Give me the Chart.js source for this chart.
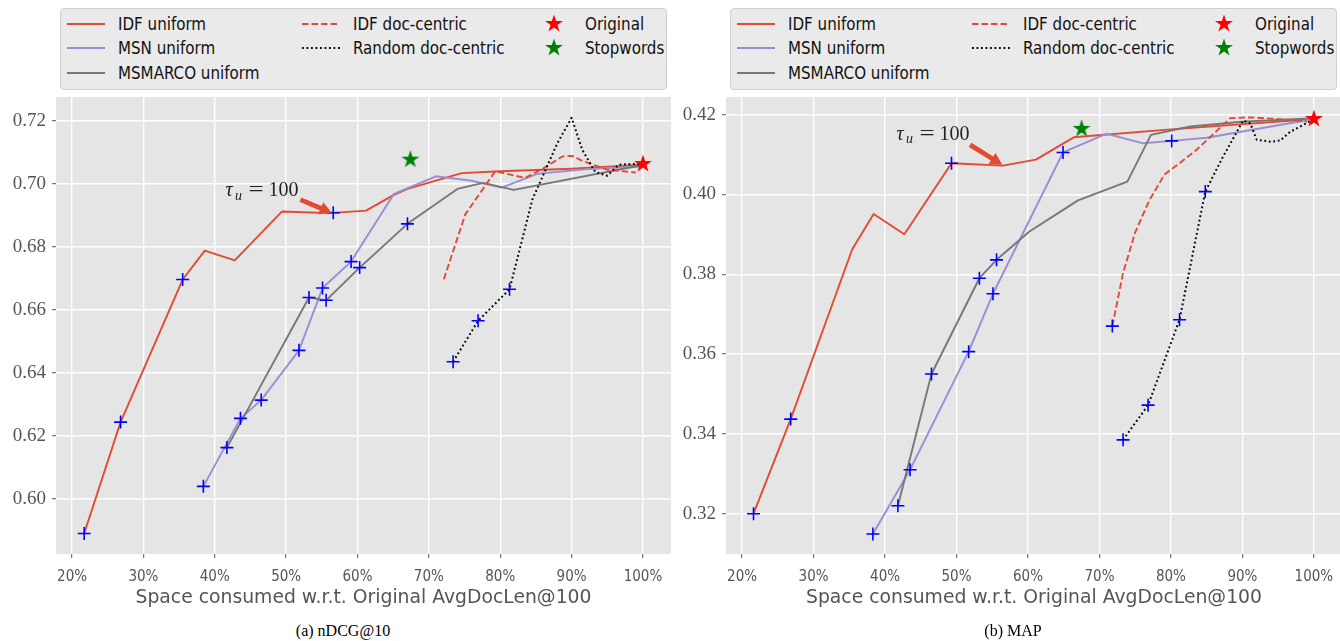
<!DOCTYPE html>
<html>
<head>
<meta charset="utf-8">
<script src="https://cdn.jsdelivr.net/npm/chart.js@4.4.1/dist/chart.umd.min.js"></script>
<style>
  body { margin: 0; width: 1340px; height: 641px; overflow: hidden; background: #fff; position: relative; }
  .panel { position: absolute; top: 0; width: 670px; height: 641px; }
  .plot { position: absolute; left: 0; top: 90px; }
  .legend { position: absolute; left: 60px; top: 8px; width: 605px; height: 80px;
            background: #eaeaea; border: 1px solid #cfcfcf; border-radius: 4px; }
  .item { position: absolute; height: 20px; display: flex; align-items: center;
          font-family: "DejaVu Sans Condensed", "DejaVu Sans", sans-serif; font-size: 16.8px; color: #111; white-space: nowrap; }
  .caption { position: absolute; top: 622px; left: 343px; transform: translateX(-50%);
             font-family: "Liberation Serif", serif; font-size: 16px; color: #000; white-space: nowrap; }
</style>
</head>
<body>
<div class="panel" id="panel-a" style="left:0">
  <div class="legend" id="legend-a"></div>
  <canvas class="plot" id="chart-a" width="671" height="525"></canvas>
  <div class="caption">(a) nDCG@10</div>
</div>
<div class="panel" id="panel-b" style="left:670px">
  <div class="legend" id="legend-b"></div>
  <canvas class="plot" id="chart-b" width="672" height="525"></canvas>
  <div class="caption">(b) MAP</div>
</div>

<script>
// Space consumed (%) vs retrieval effectiveness, two panels

const xTicks = [20, 30, 40, 50, 60, 70, 80, 90, 100];
const yTicksNdcg = [0.60, 0.62, 0.64, 0.66, 0.68, 0.70, 0.72];
const yTicksMap = [0.32, 0.34, 0.36, 0.38, 0.40, 0.42];

// (a) nDCG@10
const idfUniX_a = [21.7, 26.8, 35.5, 38.6, 42.8, 49.4, 54.4, 56.6, 61.2, 65.1, 67.0, 74.6, 80.0, 90.0, 100];
const idfUniY_a = [0.5889, 0.6243, 0.6696, 0.6788, 0.6757, 0.6912, 0.6908, 0.6908, 0.6915, 0.6965, 0.6984, 0.7034, 0.7040, 0.7048, 0.7061];
const idfUniMarks_a = [0, 1, 2, 7];

const msnUniX_a = [38.4, 43.6, 46.5, 51.8, 55.1, 59.1, 65.1, 71.0, 76.0, 80.2, 85.2, 92.2, 100];
const msnUniY_a = [0.6039, 0.6255, 0.6313, 0.6471, 0.6669, 0.6753, 0.6968, 0.7024, 0.7010, 0.6988, 0.7032, 0.7047, 0.7055];
const msnUniMarks_a = [0, 1, 2, 3, 4, 5];

const msmUniX_a = [41.7, 53.2, 55.6, 60.3, 67.0, 74.0, 77.6, 81.9, 100];
const msmUniY_a = [0.6162, 0.6639, 0.6630, 0.6734, 0.6873, 0.6984, 0.7003, 0.6981, 0.7060];
const msmUniMarks_a = [0, 1, 2, 3, 4];

const idfDocX_a = [72.1, 75.1, 79.3, 83.5, 86.1, 88.7, 90.1, 91.7, 95.0, 99.0];
const idfDocY_a = [0.6697, 0.6903, 0.7040, 0.7019, 0.7050, 0.7087, 0.7089, 0.7071, 0.7045, 0.7036];
const idfDocMarks_a = [];

const randDocX_a = [73.4, 76.9, 81.3, 84.5, 88.0, 90.0, 91.5, 93.3, 95.0, 96.6, 98.7, 100];
const randDocY_a = [0.6435, 0.6565, 0.6665, 0.6950, 0.7129, 0.7210, 0.7108, 0.7038, 0.7026, 0.7061, 0.7063, 0.7060];
const randDocMarks_a = [0, 1, 2];

const original_a = [100, 0.7063];
const stopwords_a = [67.4, 0.7077];

// (b) MAP
const idfUniX_b = [21.6, 26.8, 35.4, 38.4, 42.7, 49.3, 56.5, 61.1, 66.4, 80.0, 100];
const idfUniY_b = [0.3200, 0.3437, 0.3862, 0.3951, 0.3900, 0.4078, 0.4072, 0.4087, 0.4143, 0.4163, 0.4189];
const idfUniMarks_b = [0, 1, 5];

const msnUniX_b = [38.3, 43.5, 51.7, 55.1, 64.9, 71.0, 76.1, 80.1, 85.0, 100];
const msnUniY_b = [0.3149, 0.3310, 0.3606, 0.3751, 0.4105, 0.4152, 0.4128, 0.4134, 0.4142, 0.4189];
const msnUniMarks_b = [0, 1, 2, 3, 4, 7];

const msmUniX_b = [41.8, 46.5, 53.2, 55.6, 60.2, 67.0, 73.9, 77.2, 82.7, 89.9, 100];
const msmUniY_b = [0.3220, 0.3550, 0.3790, 0.3836, 0.3907, 0.3985, 0.4032, 0.4149, 0.4170, 0.4182, 0.4191];
const msmUniMarks_b = [0, 1, 2, 3];

const idfDocX_b = [71.8, 73.3, 75.0, 77.0, 79.1, 81.2, 83.6, 88.3, 91.1, 95.7, 99.0];
const idfDocY_b = [0.3670, 0.3803, 0.3905, 0.3986, 0.4050, 0.4078, 0.4112, 0.4191, 0.4193, 0.4188, 0.4182];
const idfDocMarks_b = [0];

const randDocX_b = [73.3, 76.8, 81.2, 84.8, 87.3, 90.1, 91.1, 92.0, 94.0, 95.3, 96.7, 100];
const randDocY_b = [0.3385, 0.3472, 0.3686, 0.4007, 0.4095, 0.4185, 0.4178, 0.4137, 0.4132, 0.4135, 0.4157, 0.4188];
const randDocMarks_b = [0, 1, 2, 3];

const original_b = [100, 0.4189];
const stopwords_b = [67.5, 0.4164];

const RED = "#E24A33", PURPLE = "#988ED5", GRAY = "#777777";
const SANS = '"DejaVu Sans Condensed", "DejaVu Sans", sans-serif';
const SANS_WIDE = '"DejaVu Sans", sans-serif';
const SERIF = '"Liberation Serif", serif';

function pts(xs, ys) {
  return xs.map((x, i) => ({ x, y: ys[i] }));
}

function starPath(g, cx, cy) {
  g.beginPath();
  for (let i = 0; i < 10; i++) {
    const r = i % 2 ? 3.6 : 9.4;
    const a = -Math.PI / 2 + i * Math.PI / 5;
    g.lineTo(cx + r * Math.cos(a), cy + r * Math.sin(a));
  }
  g.closePath();
}

function starImage(color) {
  const c = document.createElement("canvas");
  c.width = 22; c.height = 22;
  const g = c.getContext("2d");
  starPath(g, 11, 11);
  g.fillStyle = color;
  g.fill();
  return c;
}
const redStar = starImage("#FF0000");
const greenStar = starImage("#008000");

// legend (html, matplotlib-like 3 columns)
const legendEntries = [
  { label: "IDF uniform", color: RED, dash: "", col: 0, row: 0 },
  { label: "MSN uniform", color: PURPLE, dash: "", col: 0, row: 1 },
  { label: "MSMARCO uniform", color: GRAY, dash: "", col: 0, row: 2 },
  { label: "IDF doc-centric", color: RED, dash: "6.5 3", col: 1, row: 0 },
  { label: "Random doc-centric", color: "#000", dash: "1.8 2.7", col: 1, row: 1 },
  { label: "Original", star: redStar, col: 2, row: 0 },
  { label: "Stopwords", star: greenStar, col: 2, row: 1 }
];

function buildLegend(el) {
  const rowY = [15, 39, 64];
  const handleX = [6, 241, 482];
  const textX = [57, 292, 524];
  legendEntries.forEach(e => {
    const h = document.createElement("div");
    h.className = "item";
    h.style.left = handleX[e.col] + "px";
    h.style.top = (rowY[e.row] - 10) + "px";
    if (e.star) {
      const c = document.createElement("canvas");
      c.width = 22; c.height = 20;
      c.getContext("2d").drawImage(e.star, 0, -1);
      h.appendChild(c);
    } else {
      h.innerHTML = `<svg width="38" height="20"><line x1="0" y1="10" x2="38" y2="10" stroke="${e.color}" stroke-width="2" stroke-dasharray="${e.dash}"/></svg>`;
    }
    el.appendChild(h);
    const t = document.createElement("div");
    t.className = "item";
    t.style.left = textX[e.col] + "px";
    t.style.top = (rowY[e.row] - 10) + "px";
    t.textContent = e.label;
    el.appendChild(t);
  });
}

const plotBg = {
  id: "plotBg",
  beforeDraw(chart) {
    const { ctx, chartArea: a } = chart;
    ctx.save();
    ctx.fillStyle = "#E5E5E5";
    ctx.fillRect(a.left, a.top, a.right - a.left, a.bottom - a.top);
    ctx.restore();
  }
};

// "tau_u = 100" label with a fat arrow
const tauNote = {
  id: "tauNote",
  afterDatasetsDraw(chart, args, opts) {
    const { ctx, scales } = chart;
    const px = p => [scales.x.getPixelForValue(p[0]), scales.y.getPixelForValue(p[1])];
    const [tx, ty] = px(opts.text);
    ctx.save();
    ctx.fillStyle = "#222";
    ctx.textBaseline = "alphabetic";
    ctx.font = "italic 20px " + SERIF;
    ctx.fillText("τ", tx, ty + 6.5);
    ctx.font = "italic 14px " + SERIF;
    ctx.fillText("u", tx + 9.5, ty + 10);
    ctx.font = "20px " + SERIF;
    ctx.save();
    ctx.translate(tx + 23, ty + 6.5);
    ctx.scale(1.35, 1);
    ctx.fillText("=", 0, 0);
    ctx.restore();
    ctx.fillText("100", tx + 43, ty + 6.5);

    const [x0, y0] = px(opts.tail);
    const [x1, y1] = px(opts.tip);
    const dx = x1 - x0, dy = y1 - y0, L = Math.hypot(dx, dy);
    const ux = dx / L, uy = dy / L, nx = -uy, ny = ux;
    const hl = 12, hw = 6.5, sw = 2.4;
    const bx = x1 - ux * hl, by = y1 - uy * hl;
    ctx.beginPath();
    ctx.moveTo(x0 + nx * sw, y0 + ny * sw);
    ctx.lineTo(bx + nx * sw, by + ny * sw);
    ctx.lineTo(bx + nx * hw, by + ny * hw);
    ctx.lineTo(x1, y1);
    ctx.lineTo(bx - nx * hw, by - ny * hw);
    ctx.lineTo(bx - nx * sw, by - ny * sw);
    ctx.lineTo(x0 - nx * sw, y0 - ny * sw);
    ctx.closePath();
    ctx.fillStyle = RED;
    ctx.fill();
    ctx.restore();
  }
};

function lineSet(label, xs, ys, color, dash, order) {
  return {
    label,
    data: pts(xs, ys),
    borderColor: color,
    borderWidth: dash.length && dash[0] < 3 ? 2 : 1.9,
    borderDash: dash,
    borderJoinStyle: "round",
    pointRadius: 0,
    fill: false,
    tension: 0,
    order
  };
}

function makeChart(canvasId, d) {
  const series = [
    ["IDF uniform", d.idfUni, RED, [], 5],
    ["MSN uniform", d.msnUni, PURPLE, [], 4],
    ["MSMARCO uniform", d.msmUni, GRAY, [], 3],
    ["IDF doc-centric", d.idfDoc, RED, [6.5, 3], 2],
    ["Random doc-centric", d.randDoc, "#000", [1.8, 2.7], 1]
  ];
  const datasets = series.map(s => lineSet(s[0], s[1][0], s[1][1], s[2], s[3], s[4]));

  // blue "+" markers picked out of each series
  const marks = [];
  series.forEach(s => s[1][2].forEach(i => marks.push({ x: s[1][0][i], y: s[1][1][i] })));
  datasets.push({
    label: "marks", data: marks, showLine: false,
    pointStyle: "cross", pointRadius: 6.5, pointBorderColor: "#0000FF",
    pointBorderWidth: 1.6, order: 0
  });
  datasets.push({
    label: "Original", data: [{ x: d.original[0], y: d.original[1] }], showLine: false,
    pointStyle: redStar, order: -1
  });
  datasets.push({
    label: "Stopwords", data: [{ x: d.stopwords[0], y: d.stopwords[1] }], showLine: false,
    pointStyle: greenStar, order: -1
  });

  return new Chart(document.getElementById(canvasId), {
    type: "line",
    data: { datasets },
    options: {
      responsive: false,
      animation: false,
      events: [],
      layout: { autoPadding: false, padding: { left: 0, right: 0, top: 7, bottom: 0 } },
      plugins: {
        legend: { display: false },
        tooltip: { enabled: false },
        tauNote: d.note
      },
      scales: {
        x: {
          type: "linear",
          min: 17.75,
          max: 103.93,
          afterBuildTicks: s => { s.ticks = xTicks.map(v => ({ value: v })); },
          afterFit: s => { s.height = 61; s.paddingLeft = 0; s.paddingRight = 0; },
          ticks: {
            callback: v => v + "%",
            color: "#555555",
            font: { family: SANS, size: 15 },
            padding: 10,
            maxRotation: 0,
            autoSkip: false
          },
          grid: { color: "#ffffff", lineWidth: 1.4, tickColor: "#555555", tickLength: 4, tickWidth: 1 },
          border: { display: false },
          title: {
            display: true,
            text: "Space consumed w.r.t. Original AvgDocLen@100",
            color: "#555555",
            font: { family: SANS_WIDE, size: 18.8 },
            padding: { top: 0, bottom: 6 }
          }
        },
        y: {
          type: "linear",
          min: d.yMin,
          max: d.yMax,
          afterBuildTicks: s => { s.ticks = d.yTicks.map(v => ({ value: v })); },
          afterFit: s => { s.width = 56; s.paddingTop = 0; s.paddingBottom = 0; },
          ticks: {
            callback: v => v.toFixed(2),
            color: "#555555",
            font: { family: SERIF, size: 19 },
            padding: 6
          },
          grid: { color: "#ffffff", lineWidth: 1.4, tickColor: "#555555", tickLength: 4, tickWidth: 1 },
          border: { display: false }
        }
      }
    },
    plugins: [plotBg, tauNote]
  });
}

buildLegend(document.getElementById("legend-a"));
buildLegend(document.getElementById("legend-b"));

makeChart("chart-a", {
  idfUni: [idfUniX_a, idfUniY_a, idfUniMarks_a],
  msnUni: [msnUniX_a, msnUniY_a, msnUniMarks_a],
  msmUni: [msmUniX_a, msmUniY_a, msmUniMarks_a],
  idfDoc: [idfDocX_a, idfDocY_a, idfDocMarks_a],
  randDoc: [randDocX_a, randDocY_a, randDocMarks_a],
  original: original_a,
  stopwords: stopwords_a,
  yTicks: yTicksNdcg,
  yMin: 0.5824,
  yMax: 0.7276,
  note: { text: [41.5, 0.6982], tail: [52.0, 0.6950], tip: [56.4, 0.6908] }
});

makeChart("chart-b", {
  idfUni: [idfUniX_b, idfUniY_b, idfUniMarks_b],
  msnUni: [msnUniX_b, msnUniY_b, msnUniMarks_b],
  msmUni: [msmUniX_b, msmUniY_b, msmUniMarks_b],
  idfDoc: [idfDocX_b, idfDocY_b, idfDocMarks_b],
  randDoc: [randDocX_b, randDocY_b, randDocMarks_b],
  original: original_b,
  stopwords: stopwords_b,
  yTicks: yTicksMap,
  yMin: 0.3099,
  yMax: 0.4244,
  note: { text: [41.6, 0.4153], tail: [51.9, 0.4124], tip: [56.4, 0.4074] }
});
</script>
</body>
</html>
